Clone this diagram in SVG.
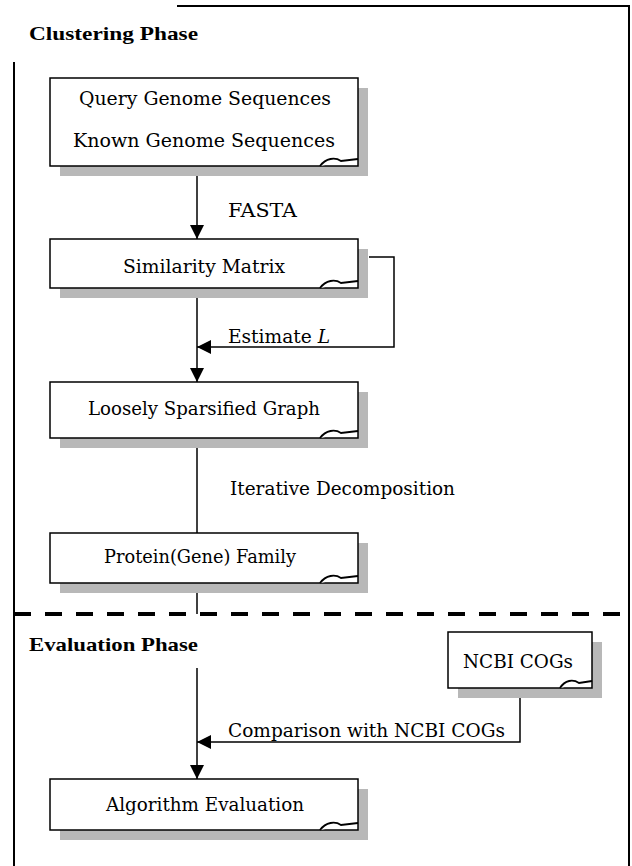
<svg xmlns="http://www.w3.org/2000/svg" width="632" height="866" viewBox="0 0 632 866">
<defs>
<style>
.frame{fill:none;stroke:#000;stroke-width:2}
.sh{fill:#b8b8b8}
.bx{fill:#fff;stroke:#000;stroke-width:1.5}
.curl{fill:#fff;stroke:#000;stroke-width:1.8}
.ln{fill:none;stroke:#000;stroke-width:1.5}
.t{font-family:"DejaVu Serif","Liberation Serif",serif;font-size:18px;fill:#000}
.h{font-family:"Liberation Serif","DejaVu Serif",serif;font-size:19px;font-weight:bold;fill:#000}
</style>
<marker id="ah" viewBox="0 0 14 14" refX="14" refY="7" markerWidth="14" markerHeight="14" markerUnits="userSpaceOnUse" orient="auto">
<path d="M0,0 L14,7 L0,14 Z" fill="#000"/>
</marker>
</defs>
<rect width="632" height="866" fill="#fff"/>
<g id="frame">
<path class="frame" d="M177,6 H629 V866"/>
<path class="frame" d="M14,62 V866"/>
<path d="M14,614 H629" stroke="#000" stroke-width="4" stroke-dasharray="17 14" fill="none"/>
<text class="h" x="29" y="40" textLength="169" lengthAdjust="spacingAndGlyphs">Clustering Phase</text>
<text class="h" x="29" y="651" textLength="169" lengthAdjust="spacingAndGlyphs">Evaluation Phase</text>
</g>
<g id="connectors">
<path class="ln" d="M197,166 V239" marker-end="url(#ah)"/>
<text class="t" x="228" y="217" textLength="69" lengthAdjust="spacingAndGlyphs">FASTA</text>
<path class="ln" d="M369,257 H394 V347 H197" marker-end="url(#ah)"/>
<text class="t" x="228" y="343" textLength="102" lengthAdjust="spacingAndGlyphs">Estimate <tspan font-style="italic">L</tspan></text>
<path class="ln" d="M197,288 V382" marker-end="url(#ah)"/>
<path class="ln" d="M197,438 V533"/>
<text class="t" x="230" y="495" textLength="225" lengthAdjust="spacingAndGlyphs">Iterative Decomposition</text>
<path class="ln" d="M197,583 V614"/>
<path class="ln" d="M197,668 V779" marker-end="url(#ah)"/>
<path class="ln" d="M520,698 V742 H197" marker-end="url(#ah)"/>
<text class="t" x="228" y="737" textLength="277" lengthAdjust="spacingAndGlyphs">Comparison with NCBI COGs</text>
</g>
<g id="n1">
<rect class="sh" x="60" y="88" width="308" height="88"/>
<rect class="bx" x="50" y="78" width="308" height="88"/>
<path class="curl" d="M320,166 C326,158 335,157 341,161 L358,159"/>
<text class="t" x="205" y="105" text-anchor="middle" textLength="252" lengthAdjust="spacingAndGlyphs">Query Genome Sequences</text>
<text class="t" x="204" y="147" text-anchor="middle" textLength="262" lengthAdjust="spacingAndGlyphs">Known Genome Sequences</text>
</g>
<g id="n2">
<rect class="sh" x="60" y="249" width="308" height="49"/>
<rect class="bx" x="50" y="239" width="308" height="49"/>
<path class="curl" d="M320,288 C326,280 335,279 341,283 L358,281"/>
<text class="t" x="204" y="273" text-anchor="middle" textLength="162" lengthAdjust="spacingAndGlyphs">Similarity Matrix</text>
</g>
<g id="n3">
<rect class="sh" x="60" y="392" width="308" height="56"/>
<rect class="bx" x="50" y="382" width="308" height="56"/>
<path class="curl" d="M320,438 C326,430 335,429 341,433 L358,431"/>
<text class="t" x="204" y="415" text-anchor="middle" textLength="232" lengthAdjust="spacingAndGlyphs">Loosely Sparsified Graph</text>
</g>
<g id="n4">
<rect class="sh" x="60" y="543" width="308" height="50"/>
<rect class="bx" x="50" y="533" width="308" height="50"/>
<path class="curl" d="M320,583 C326,575 335,574 341,578 L358,576"/>
<text class="t" x="200" y="563" text-anchor="middle" textLength="192" lengthAdjust="spacingAndGlyphs">Protein(Gene) Family</text>
</g>
<g id="n5">
<rect class="sh" x="458" y="642" width="144" height="56"/>
<rect class="bx" x="448" y="632" width="144" height="56"/>
<path class="curl" d="M560,688 C565,680 573,679 579,683 L592,681"/>
<text class="t" x="518" y="668" text-anchor="middle" textLength="110" lengthAdjust="spacingAndGlyphs">NCBI COGs</text>
</g>
<g id="n6">
<rect class="sh" x="60" y="789" width="308" height="51"/>
<rect class="bx" x="50" y="779" width="308" height="51"/>
<path class="curl" d="M320,830 C326,822 335,821 341,825 L358,823"/>
<text class="t" x="205" y="811" text-anchor="middle" textLength="198" lengthAdjust="spacingAndGlyphs">Algorithm Evaluation</text>
</g>
</svg>
